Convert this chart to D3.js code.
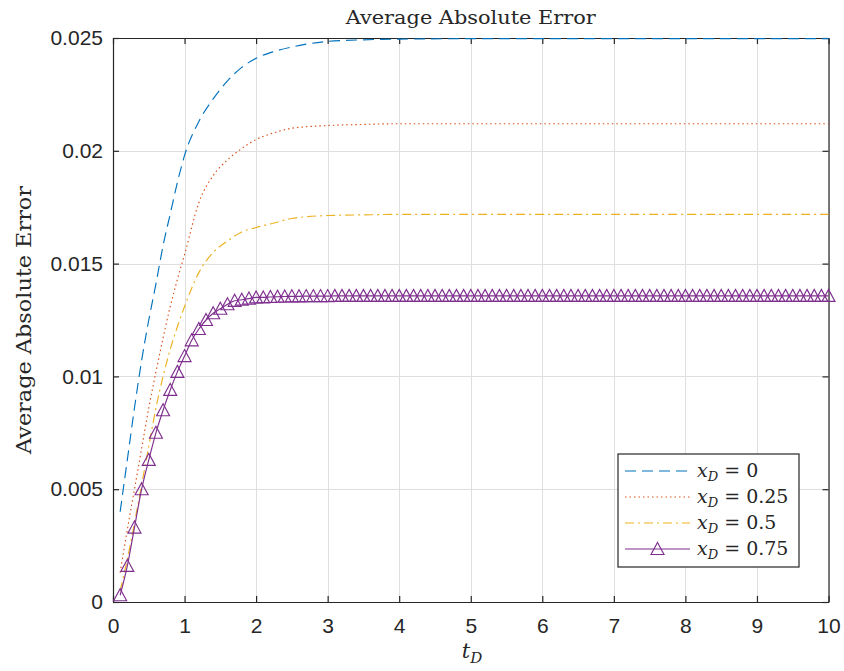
<!DOCTYPE html>
<html>
<head>
<meta charset="utf-8">
<script src="https://cdn.jsdelivr.net/npm/d3@7"></script>
<style>
  body { margin: 0; background: #fff; }
  text { fill: #262626; }
</style>
</head>
<body>
<svg id="chart" width="844" height="671"></svg>
<script>
// sample times for the three plain curves
var tCoarse = [0.1, 0.2, 0.3, 0.4, 0.5, 0.6, 0.7, 0.8, 0.9, 1.0, 1.2, 1.4, 1.6, 1.8, 2.0, 2.25, 2.5, 3, 3.5, 4, 5, 6, 7, 8, 9, 10];
var errX0  = [0.0040, 0.0063, 0.0086, 0.0107, 0.0125, 0.0141, 0.0158, 0.0172, 0.0186, 0.0198, 0.0213, 0.0223, 0.0231, 0.0237, 0.0241, 0.0244, 0.0246, 0.02485, 0.02492, 0.02495, 0.02497, 0.02497, 0.02497, 0.02497, 0.02497, 0.02497];
var errX25 = [0.0013, 0.0032, 0.0050, 0.0068, 0.0086, 0.0102, 0.0117, 0.0131, 0.0143, 0.0154, 0.0177, 0.0189, 0.0196, 0.0201, 0.0205, 0.0208, 0.0210, 0.02112, 0.02117, 0.0212, 0.0212, 0.0212, 0.0212, 0.0212, 0.0212, 0.0212];
var errX50 = [0.0005, 0.0019, 0.0035, 0.0052, 0.0069, 0.0086, 0.0100, 0.0112, 0.0122, 0.0131, 0.0146, 0.0155, 0.0160, 0.0164, 0.0166, 0.0168, 0.0170, 0.01713, 0.01716, 0.01718, 0.01718, 0.01718, 0.01718, 0.01718, 0.01718, 0.01718];

// x_D = 0.75 is plotted with a marker on every sample
var tFine = [0.1, 0.2, 0.3, 0.4, 0.5, 0.6, 0.7, 0.8, 0.9, 1.0,
  1.1, 1.2, 1.3, 1.4, 1.5, 1.6, 1.7, 1.8, 1.9, 2.0,
  2.1, 2.2, 2.3, 2.4, 2.5, 2.6, 2.7, 2.8, 2.9, 3.0,
  3.1, 3.2, 3.3, 3.4, 3.5, 3.6, 3.7, 3.8, 3.9, 4.0,
  4.1, 4.2, 4.3, 4.4, 4.5, 4.6, 4.7, 4.8, 4.9, 5.0,
  5.1, 5.2, 5.3, 5.4, 5.5, 5.6, 5.7, 5.8, 5.9, 6.0,
  6.1, 6.2, 6.3, 6.4, 6.5, 6.6, 6.7, 6.8, 6.9, 7.0,
  7.1, 7.2, 7.3, 7.4, 7.5, 7.6, 7.7, 7.8, 7.9, 8.0,
  8.1, 8.2, 8.3, 8.4, 8.5, 8.6, 8.7, 8.8, 8.9, 9.0,
  9.1, 9.2, 9.3, 9.4, 9.5, 9.6, 9.7, 9.8, 9.9, 10.0];
var errX75 = [0.0003, 0.0016, 0.0033, 0.0050, 0.0063, 0.0075, 0.0085, 0.0094, 0.0102, 0.0109,
  0.0116, 0.0121, 0.0125, 0.0128, 0.0130, 0.0132, 0.01335, 0.0134, 0.01345, 0.0135,
  0.01350, 0.01352, 0.01353, 0.01354, 0.01355, 0.01355, 0.01356, 0.01356, 0.01356, 0.01356,
  0.01357, 0.01357, 0.01357, 0.01357, 0.01357, 0.01357, 0.01357, 0.01357, 0.01357, 0.01357,
  0.01357, 0.01357, 0.01357, 0.01357, 0.01357, 0.01357, 0.01357, 0.01357, 0.01357, 0.01357,
  0.01357, 0.01357, 0.01357, 0.01357, 0.01357, 0.01357, 0.01357, 0.01357, 0.01357, 0.01357,
  0.01357, 0.01357, 0.01357, 0.01357, 0.01357, 0.01357, 0.01357, 0.01357, 0.01357, 0.01357,
  0.01357, 0.01357, 0.01357, 0.01357, 0.01357, 0.01357, 0.01357, 0.01357, 0.01357, 0.01357,
  0.01357, 0.01357, 0.01357, 0.01357, 0.01357, 0.01357, 0.01357, 0.01357, 0.01357, 0.01357,
  0.01357, 0.01357, 0.01357, 0.01357, 0.01357, 0.01357, 0.01357, 0.01357, 0.01357, 0.01357];

var xTicks = [0, 1, 2, 3, 4, 5, 6, 7, 8, 9, 10];
var yTicks = [0, 0.005, 0.01, 0.015, 0.02, 0.025];
var yTickLabels = ['0', '0.005', '0.01', '0.015', '0.02', '0.025'];
var legendValues = ['0', '0.25', '0.5', '0.75'];

var W = 844, H = 671;
var plotLeft = 113, plotRight = 828.5, plotTop = 38, plotBottom = 602;
var axisColor = '#262626';
var gridColor = '#dfdfdf';
var sansFont = '"Liberation Sans", Arial, sans-serif';
var serifFont = '"DejaVu Serif", serif';

var svg = d3.select('#chart');
svg.append('rect').attr('width', W).attr('height', H).attr('fill', '#fff');

var x = d3.scaleLinear().domain([0, 10]).range([plotLeft, plotRight]);
var y = d3.scaleLinear().domain([0, 0.025]).range([plotBottom, plotTop]);

// grid
var grid = svg.append('g').attr('stroke', gridColor).attr('stroke-width', 1);
grid.selectAll('.gx').data(xTicks).enter().append('line')
    .attr('x1', function (d) { return Math.round(x(d)) + 0.5; })
    .attr('x2', function (d) { return Math.round(x(d)) + 0.5; })
    .attr('y1', plotTop).attr('y2', plotBottom);
grid.selectAll('.gy').data(yTicks).enter().append('line')
    .attr('y1', function (d) { return Math.round(y(d)) + 0.5; })
    .attr('y2', function (d) { return Math.round(y(d)) + 0.5; })
    .attr('x1', plotLeft).attr('x2', plotRight);

// axes, ticks pointing in
function styleAxis(g) {
    g.select('.domain').attr('stroke', axisColor).attr('stroke-width', 1.2);
    g.selectAll('.tick line').attr('stroke', axisColor).attr('stroke-width', 1.2);
    g.selectAll('.tick text').attr('fill', axisColor)
        .style('font-family', sansFont).style('font-size', '21px');
}
svg.append('g').attr('transform', 'translate(0,' + plotBottom + ')')
    .call(d3.axisBottom(x).tickValues(xTicks).tickSize(-6).tickSizeOuter(0).tickPadding(16).tickFormat(d3.format('d')))
    .call(styleAxis);
svg.append('g').attr('transform', 'translate(0,' + plotTop + ')')
    .call(d3.axisTop(x).tickValues(xTicks).tickSize(-6).tickSizeOuter(0).tickFormat(''))
    .call(styleAxis);
svg.append('g').attr('transform', 'translate(' + plotLeft + ',0)')
    .call(d3.axisLeft(y).tickValues(yTicks).tickSize(-6).tickSizeOuter(0).tickPadding(10)
        .tickFormat(function (d, i) { return yTickLabels[i]; }))
    .call(styleAxis);
svg.append('g').attr('transform', 'translate(' + plotRight + ',0)')
    .call(d3.axisRight(y).tickValues(yTicks).tickSize(-6).tickSizeOuter(0).tickFormat(''))
    .call(styleAxis);

// series
var series = [
    { t: tCoarse, v: errX0,  color: '#0072BD', dash: '11,6' },
    { t: tCoarse, v: errX25, color: '#D95319', dash: '1.5,3' },
    { t: tCoarse, v: errX50, color: '#EDB120', dash: '9,4,2,4' },
    { t: tFine,   v: errX75, color: '#7E2F8E', dash: null, marker: true }
];
var line = d3.line()
    .x(function (d) { return x(d[0]); })
    .y(function (d) { return y(d[1]); })
    .curve(d3.curveMonotoneX);

var triPath = 'M0,-6.5L6.5,5.5L-6.5,5.5Z';

series.forEach(function (s) {
    var pts = s.t.map(function (t, i) { return [t, s.v[i]]; });
    svg.append('path').datum(pts)
        .attr('d', line)
        .attr('fill', 'none')
        .attr('stroke', s.color)
        .attr('stroke-width', 1.15)
        .attr('stroke-dasharray', s.dash);
    if (s.marker) {
        svg.append('g').selectAll('path').data(pts).enter().append('path')
            .attr('d', triPath)
            .attr('transform', function (d) { return 'translate(' + x(d[0]) + ',' + y(d[1]) + ')'; })
            .attr('fill', 'none')
            .attr('stroke', s.color)
            .attr('stroke-width', 1.15);
    }
});

// title and labels
svg.append('text')
    .attr('x', (plotLeft + plotRight) / 2).attr('y', 24)
    .attr('text-anchor', 'middle')
    .style('font-family', serifFont).style('font-size', '19px')
    .attr('textLength', 250).attr('lengthAdjust', 'spacingAndGlyphs')
    .text('Average Absolute Error');

svg.append('text')
    .attr('transform', 'translate(31,' + ((plotTop + plotBottom) / 2) + ') rotate(-90)')
    .attr('text-anchor', 'middle')
    .style('font-family', serifFont).style('font-size', '20px')
    .attr('textLength', 268).attr('lengthAdjust', 'spacingAndGlyphs')
    .text('Average Absolute Error');

var xl = svg.append('text')
    .attr('x', (plotLeft + plotRight) / 2 - 9).attr('y', 658)
    .style('font-family', serifFont).style('font-size', '21px');
xl.append('tspan').style('font-style', 'italic').text('t');
xl.append('tspan').attr('dy', 5).style('font-style', 'italic').style('font-size', '15px').text('D');

// legend
var lg = svg.append('g').attr('transform', 'translate(618,454)');
lg.append('rect').attr('width', 181).attr('height', 113)
    .attr('fill', '#fff').attr('stroke', axisColor).attr('stroke-width', 1.2);
series.forEach(function (s, i) {
    var yy = 17 + i * 26;
    lg.append('line').attr('x1', 7).attr('x2', 72).attr('y1', yy).attr('y2', yy)
        .attr('stroke', s.color).attr('stroke-width', 1.15).attr('stroke-dasharray', s.dash);
    if (s.marker) {
        lg.append('path').attr('d', triPath).attr('transform', 'translate(39.5,' + yy + ')')
            .attr('fill', 'none').attr('stroke', s.color).attr('stroke-width', 1.15);
    }
    var tx = lg.append('text').attr('x', 79).attr('y', yy + 6)
        .style('font-family', serifFont).style('font-size', '19px');
    tx.append('tspan').style('font-style', 'italic').text('x');
    tx.append('tspan').attr('dy', 4).style('font-style', 'italic').style('font-size', '13px').text('D');
    tx.append('tspan').attr('dy', -4).text(' = ' + legendValues[i]);
});
</script>
</body>
</html>
